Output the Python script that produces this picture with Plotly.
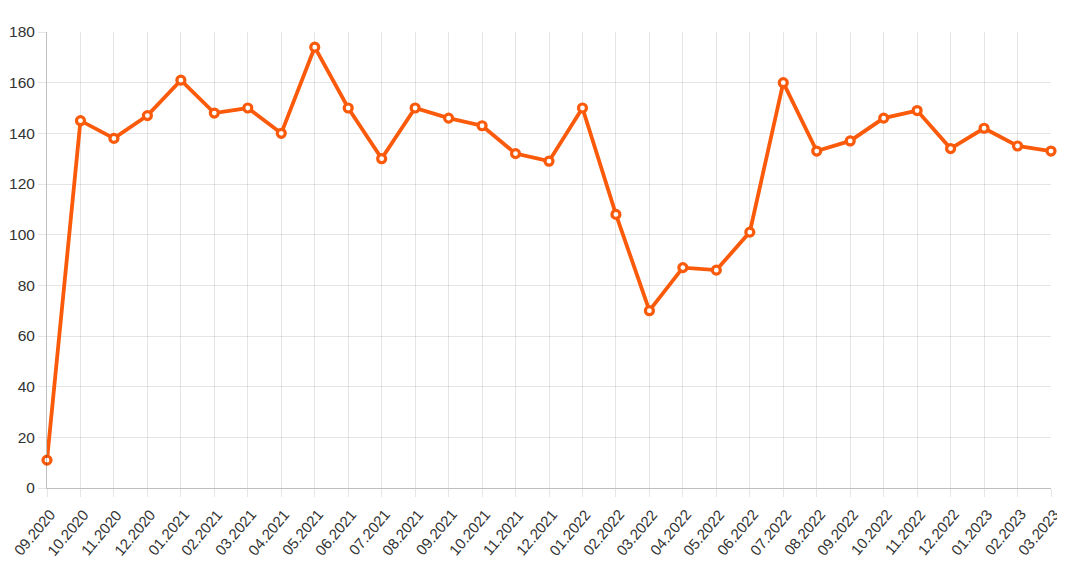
import plotly.graph_objects as go

months = ["09.2020", "10.2020", "11.2020", "12.2020", "01.2021", "02.2021", "03.2021",
          "04.2021", "05.2021", "06.2021", "07.2021", "08.2021", "09.2021", "10.2021",
          "11.2021", "12.2021", "01.2022", "02.2022", "03.2022", "04.2022", "05.2022",
          "06.2022", "07.2022", "08.2022", "09.2022", "10.2022", "11.2022", "12.2022",
          "01.2023", "02.2023", "03.2023"]
values = [11, 145, 138, 147, 161, 148, 150, 140, 174, 150, 130, 150, 146, 143, 132, 129,
          150, 108, 70, 87, 86, 101, 160, 133, 137, 146, 149, 134, 142, 135, 133]
y_ticks = [0, 20, 40, 60, 80, 100, 120, 140, 160, 180]

orange = "#fa5a0a"
label_font = dict(family="Liberation Sans, Arial, sans-serif", size=15, color="#333")

fig = go.Figure()
fig.add_trace(go.Scatter(
    x=months, y=values, mode="lines+markers",
    line=dict(color=orange, width=3.8),
    marker=dict(size=8, color="white", line=dict(color=orange, width=3.2)),
    hoverinfo="x+y", showlegend=False, cliponaxis=False,
))

# rotated category labels (Chart.js-style placement), positioned by category index
for i, m in enumerate(months):
    fig.add_annotation(
        x=i, xref="x", y=0, yref="paper", text=m, showarrow=False,
        textangle=-50, xanchor="center", yanchor="middle",
        xshift=-13, yshift=-44, font=label_font,
    )

fig.update_layout(
    width=1065, height=586,
    margin=dict(l=39, r=22, t=24, b=106),
    paper_bgcolor="white", plot_bgcolor="white",
    font=label_font,
    xaxis=dict(
        type="category", showticklabels=False, showgrid=True, gridcolor="rgba(0,0,0,0.1)",
        gridwidth=1, ticks="outside", ticklen=8, tickcolor="rgba(0,0,0,0.1)",
        showline=True, linecolor="rgba(0,0,0,0.25)", linewidth=1,
        range=[0, len(months) - 1], zeroline=False, automargin=False,
    ),
    yaxis=dict(
        range=[0, 180], tickvals=y_ticks, showgrid=True, gridcolor="rgba(0,0,0,0.1)",
        gridwidth=1, ticks="outside", ticklen=8, tickcolor="rgba(0,0,0,0.1)",
        showline=True, linecolor="rgba(0,0,0,0.25)", linewidth=1, zeroline=False,
        automargin=False, tickfont=dict(size=15.5, color="#333"),
    ),
)

fig.write_html("out.html")
